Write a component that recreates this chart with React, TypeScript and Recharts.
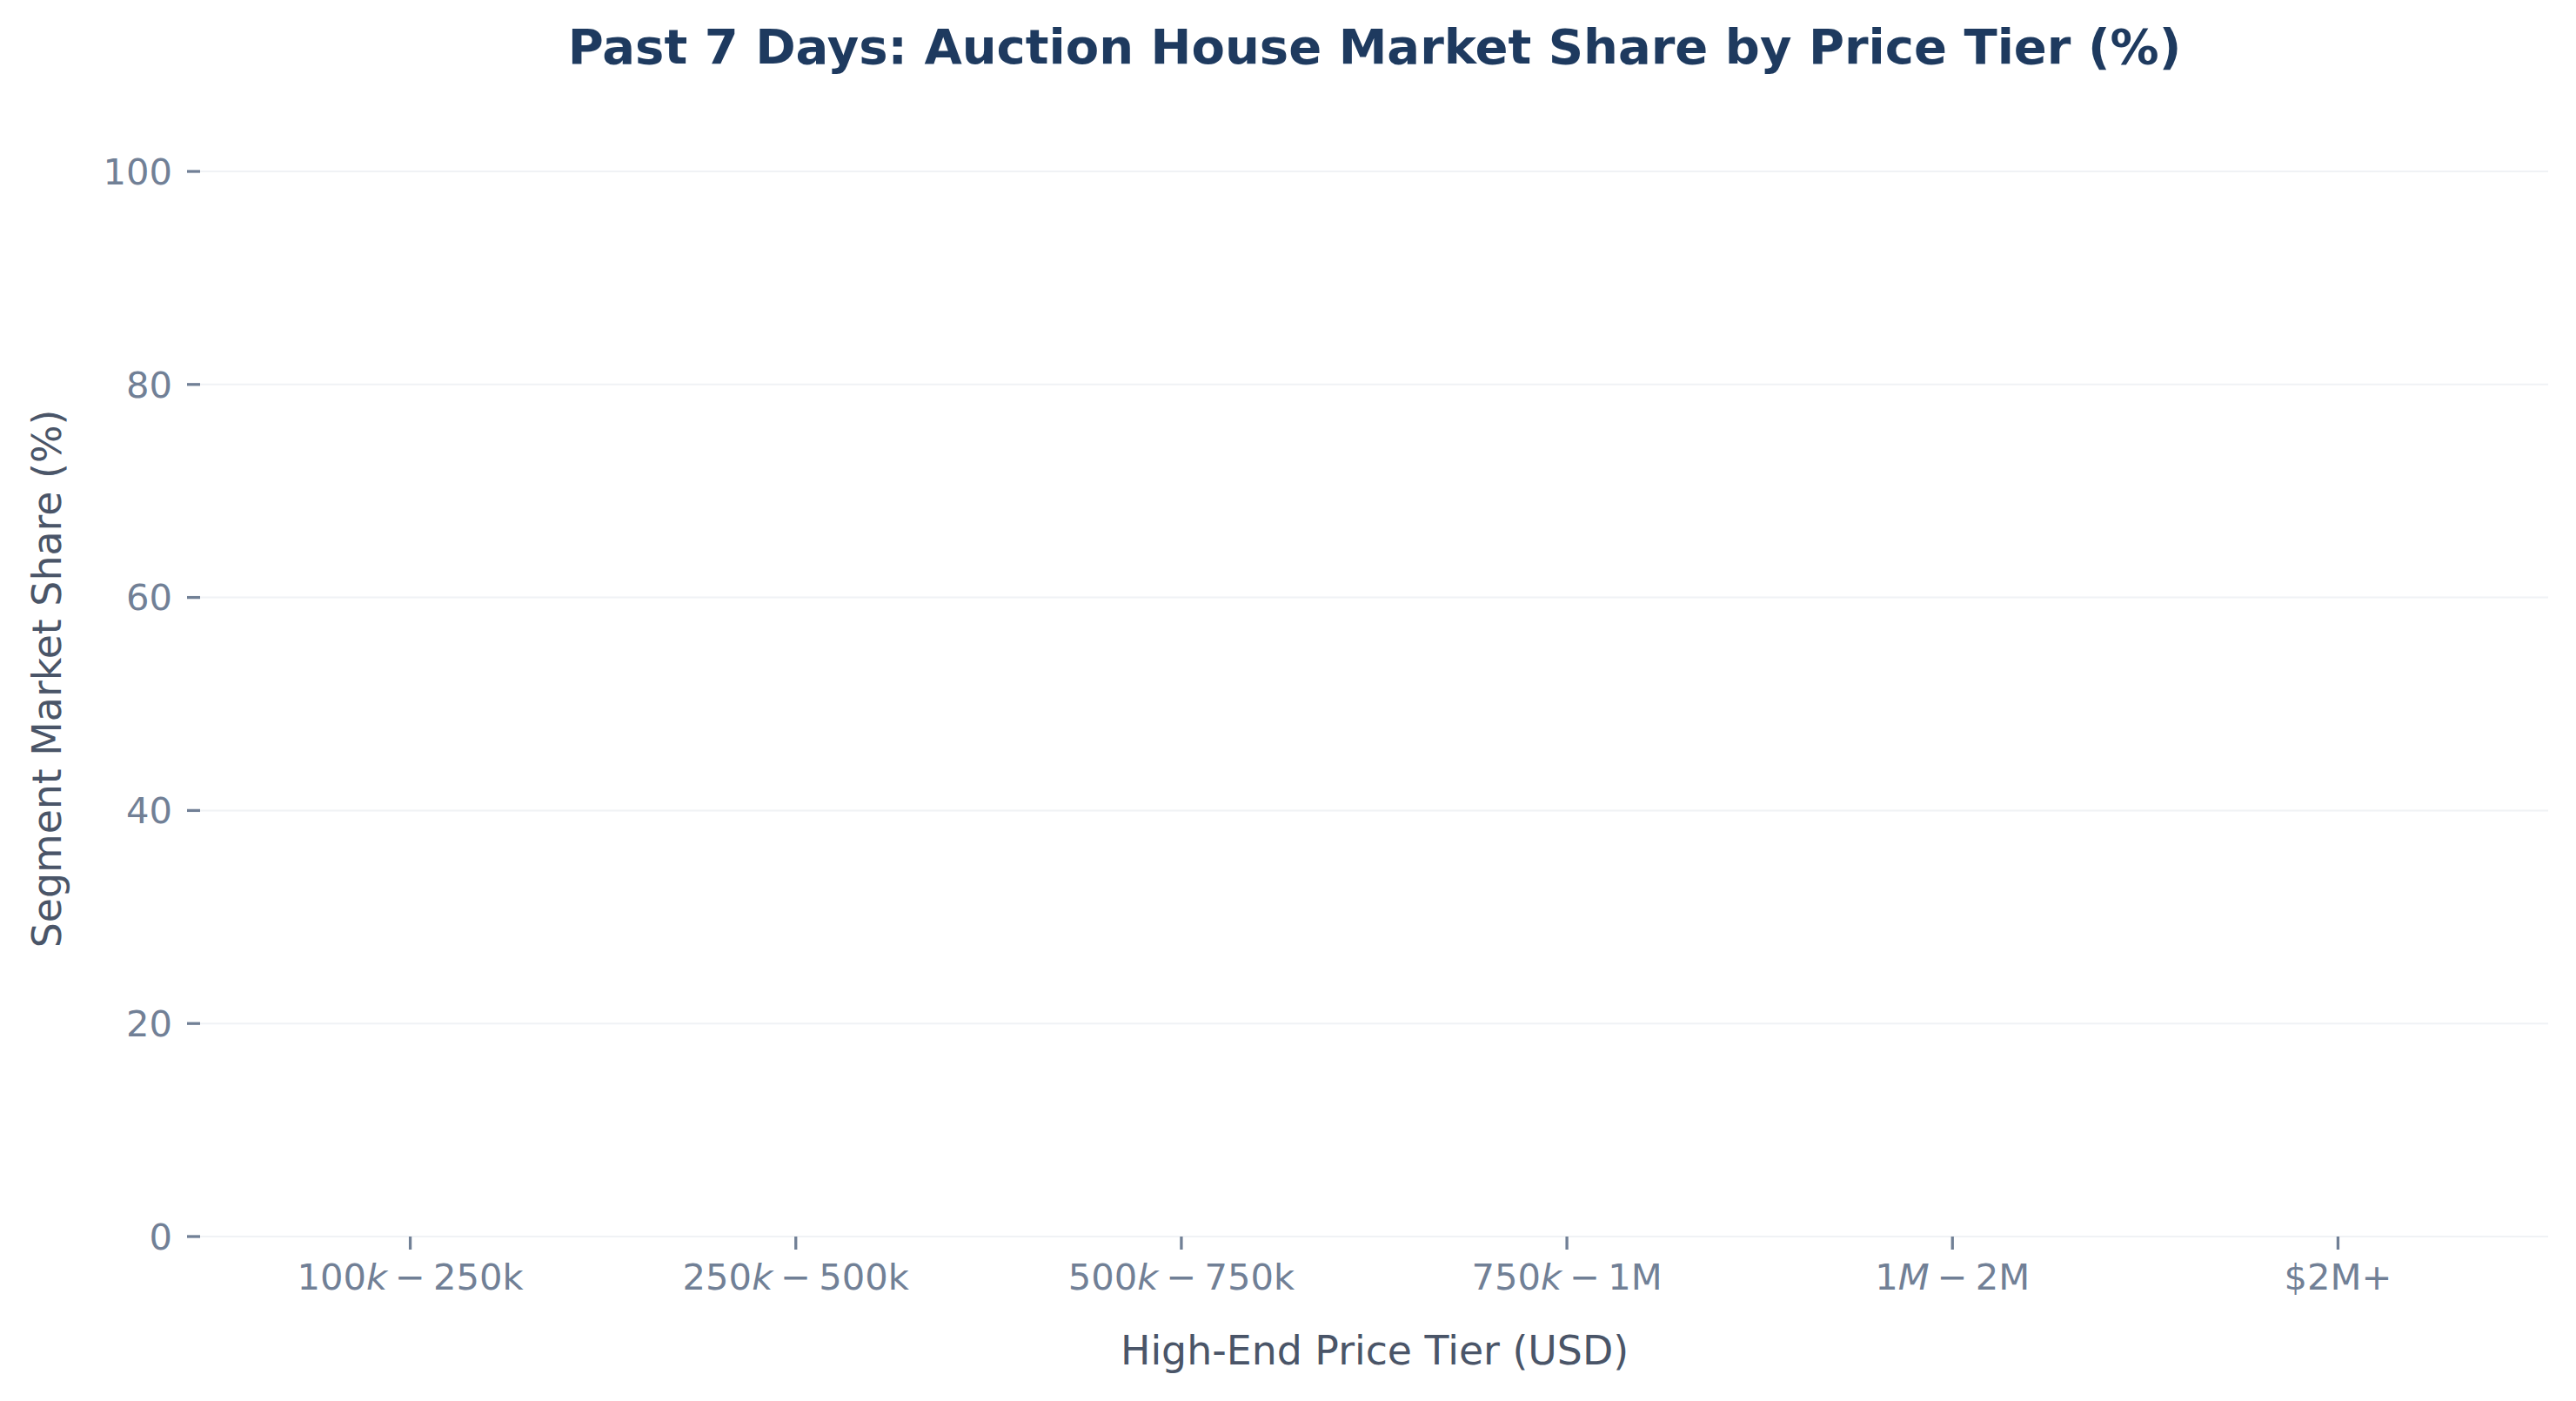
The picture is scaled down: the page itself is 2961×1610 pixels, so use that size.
import React from 'react';
import { BarChart, Bar, XAxis, YAxis, CartesianGrid } from 'recharts';

// Category labels exactly as given to the original plot (mathtext between $...$)
const categories = ['$100k-$250k', '$250k-$500k', '$500k-$750k', '$750k-$1M', '$1M-$2M', '$2M+'];
// Segment market share (%) – no bars are visible in the reference
const marketShare = [0, 0, 0, 0, 0, 0];
const yTicks = [0, 20, 40, 60, 80, 100];

const data = categories.map((tier, i) => ({ tier, share: marketShare[i] }));

const FONT = 'DejaVu Sans, sans-serif';
const TICK_COLOR = '#718096';
const LABEL_COLOR = '#4a5568';
const TITLE_COLOR = '#1e3a5f';
const TICK_FS = 41.7;
const MATH_SPACE = 9;

function renderMathLabel(label: string) {
  const parts = label.split('$');
  if (parts.length !== 3) {
    return [<tspan key="p">{label}</tspan>];
  }
  const out: any[] = [];
  let key = 0;
  let pendingDx = 0;
  const push = (text: string, italic = false) => {
    if (!text) return;
    out.push(
      <tspan key={key++} dx={pendingDx || undefined} fontStyle={italic ? 'italic' : 'normal'}>
        {text}
      </tspan>
    );
    pendingDx = 0;
  };
  push(parts[0]);
  let buf = '';
  for (const ch of parts[1]) {
    if (/[A-Za-z]/.test(ch)) {
      push(buf);
      buf = '';
      push(ch, true);
    } else if (ch === '-') {
      push(buf);
      buf = '';
      pendingDx = MATH_SPACE;
      push('\u2212');
      pendingDx = MATH_SPACE;
    } else {
      buf += ch;
    }
  }
  push(buf);
  push(parts[2]);
  return out;
}

function MathTick(props: any) {
  const { x, y, payload } = props;
  return (
    <text
      x={x}
      y={y}
      dy="0.71em"
      textAnchor="middle"
      fill={TICK_COLOR}
      fontSize={TICK_FS}
      fontFamily={FONT}
    >
      {renderMathLabel(String(payload.value))}
    </text>
  );
}

export default function App() {
  return (
    <div style={{ position: 'absolute', left: 0, top: 0, width: 2961, height: 1610, background: '#ffffff', overflow: 'hidden' }}>
      <BarChart
        width={2961}
        height={1610}
        data={data}
        margin={{ top: 197, right: 32, bottom: 0, left: 0 }}
      >
        <CartesianGrid vertical={false} stroke="#f0f2f5" strokeWidth={2} />
        <XAxis
          dataKey="tier"
          axisLine={false}
          tickLine={{ stroke: TICK_COLOR, strokeWidth: 3.3 }}
          tickSize={15}
          tickMargin={16}
          height={189}
          padding={{ left: 20, right: 20 }}
          interval={0}
          tick={(p: any) => <MathTick {...p} />}
        />
        <YAxis
          domain={[0, 100]}
          ticks={yTicks}
          axisLine={false}
          tickLine={{ stroke: TICK_COLOR, strokeWidth: 3.3 }}
          tickSize={15}
          tickMargin={17}
          width={230}
          tick={{ fill: TICK_COLOR, fontSize: TICK_FS, fontFamily: FONT }}
        />
        <Bar dataKey="share" fill="#2c5282" isAnimationActive={false} />
      </BarChart>
      <svg
        width={2961}
        height={1610}
        style={{ position: 'absolute', left: 0, top: 0, pointerEvents: 'none' }}
      >
        <text x={1580} y={73} textAnchor="middle" fontFamily={FONT} fontWeight="bold" fontSize={56} fill={TITLE_COLOR}>
          Past 7 Days: Auction House Market Share by Price Tier (%)
        </text>
        <text x={1580} y={1568} textAnchor="middle" fontFamily={FONT} fontSize={45.8} fill={LABEL_COLOR}>
          High-End Price Tier (USD)
        </text>
        <text
          x={0}
          y={0}
          transform="translate(70, 780) rotate(-90)"
          textAnchor="middle"
          fontFamily={FONT}
          fontSize={45.8}
          fill={LABEL_COLOR}
        >
          Segment Market Share (%)
        </text>
      </svg>
    </div>
  );
}
